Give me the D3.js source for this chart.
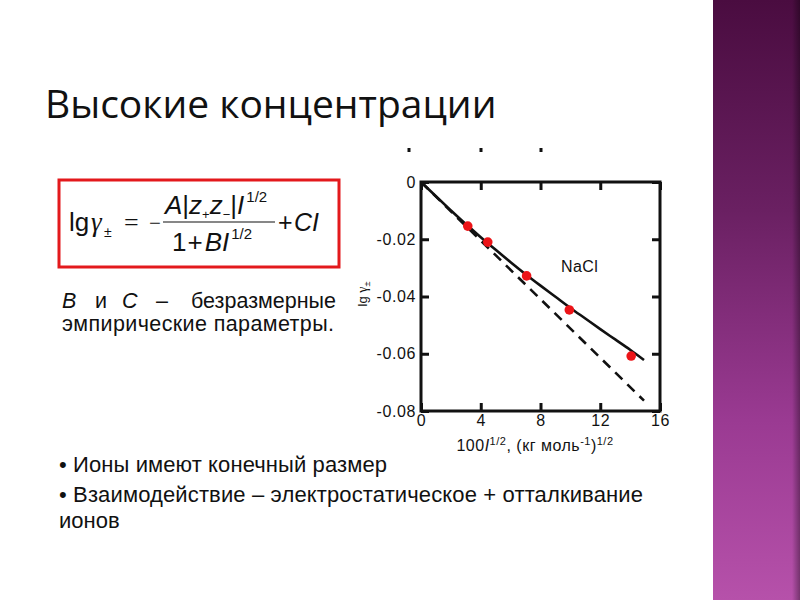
<!DOCTYPE html>
<html><head><meta charset="utf-8">
<script src="https://cdn.jsdelivr.net/npm/d3@7"></script>
<style>html,body{margin:0;padding:0;background:#fff;}svg{display:block;}</style>
</head><body>
<script>
// ---- data ----
const xTicks = [0, 4, 8, 12, 16];
const yTicks = [0, -0.02, -0.04, -0.06, -0.08];
const yTickLabels = ["0", "-0.02", "-0.04", "-0.06", "-0.08"];
const pointsX = [3.13, 4.47, 7.07, 9.93, 14.07];
const pointsY = [-0.0154, -0.0210, -0.0328, -0.0447, -0.0608];
const curveX = [0, 1, 2, 3, 4, 5, 6, 7, 8, 9, 10, 11, 12, 13, 14, 14.93];
const curveY = [0, -0.0050, -0.0099, -0.0147, -0.0193, -0.0237, -0.0280, -0.0322, -0.0362, -0.0401, -0.0440, -0.0477, -0.0514, -0.0550, -0.0586, -0.0622];
const limitX = [0, 14.93];
const limitY = [0, -0.0764];

const W = 800, H = 600;
const svg = d3.select("body").append("svg").attr("width", W).attr("height", H);
const fF = "Liberation Sans";

// sidebar
const defs = svg.append("defs");
const g1 = defs.append("linearGradient").attr("id", "side").attr("x1", 0).attr("y1", 0).attr("x2", 0).attr("y2", 1);
[["0%", "#4a0c40"], ["35%", "#6a2062"], ["70%", "#9a3a92"], ["100%", "#b651aa"]].forEach(s => g1.append("stop").attr("offset", s[0]).attr("stop-color", s[1]));
const g2 = defs.append("linearGradient").attr("id", "edge").attr("x1", 0).attr("y1", 0).attr("x2", 1).attr("y2", 0);
g2.append("stop").attr("offset", "0%").attr("stop-color", "#000").attr("stop-opacity", 0);
g2.append("stop").attr("offset", "100%").attr("stop-color", "#000").attr("stop-opacity", 0.35);
svg.append("rect").attr("x", 713).attr("y", 0).attr("width", 87).attr("height", H).attr("fill", "url(#side)");
svg.append("rect").attr("x", 792).attr("y", 0).attr("width", 8).attr("height", H).attr("fill", "url(#edge)");

// title
svg.append("text").attr("x", 45).attr("y", 118).attr("font-family", "Open Sans").attr("font-size", 39)
  .attr("fill", "#111").text("Высокие концентрации");

// formula box
svg.append("rect").attr("x", 59).attr("y", 180).attr("width", 280).attr("height", 87)
  .attr("fill", "none").attr("stroke", "#e3191c").attr("stroke-width", 3);
const fm = svg.append("g").attr("font-family", fF).attr("fill", "#111");
function t(x, y, s, size, opts) {
  const e = fm.append("text").attr("x", x).attr("y", y).attr("font-size", size).text(s);
  if (opts && opts.it) e.attr("font-style", "italic");
  if (opts && opts.serif) e.attr("font-family", "Liberation Serif");
  return e;
}
const base = 231;
t(69, base, "lg", 26);
t(91, base, "γ", 27, {serif: 1, it: 1});
t(104, base + 6, "±", 14);
t(124, base, "=", 26, {serif: 1});
t(149, base - 1, "−", 21, {serif: 1});
fm.append("line").attr("x1", 163).attr("x2", 275).attr("y1", 222).attr("y2", 222).attr("stroke", "#111").attr("stroke-width", 1.2);
// numerator
const num = fm.append("text").attr("x", 165).attr("y", 214).attr("font-size", 26);
num.append("tspan").attr("font-style", "italic").text("A");
num.append("tspan").text("|");
num.append("tspan").attr("font-style", "italic").text("z");
num.append("tspan").attr("font-size", 13).attr("dy", 5).text("+");
num.append("tspan").attr("font-style", "italic").attr("dy", -5).text("z");
num.append("tspan").attr("font-size", 13).attr("dy", 5).text("−");
num.append("tspan").attr("dy", -5).text("|");
num.append("tspan").attr("font-style", "italic").text("I");
num.append("tspan").attr("font-size", 15).attr("dy", -12).attr("dx", 2).text("1/2");
// denominator
const den = fm.append("text").attr("x", 172).attr("y", 251).attr("font-size", 26);
den.append("tspan").text("1");
den.append("tspan").attr("dx", 1).text("+");
den.append("tspan").attr("dx", 2).attr("font-style", "italic").text("BI");
den.append("tspan").attr("font-size", 15).attr("dy", -12).attr("dx", 2).text("1/2");
t(278, base, "+", 25);
t(294, base, "C", 25, {it: 1});
t(312, base, "I", 25, {it: 1});

// paragraph (justified first line)
const para = svg.append("g").attr("font-family", fF).attr("font-size", 21.5).attr("fill", "#111");
const l1 = para.append("text").attr("y", 308);
l1.append("tspan").attr("x", 62).attr("font-style", "italic").text("B");
l1.append("tspan").attr("x", 95).text("и");
l1.append("tspan").attr("x", 122).attr("font-style", "italic").text("C");
l1.append("tspan").attr("x", 156).text("–");
para.append("text").attr("x", 191).attr("y", 308).attr("textLength", 145).attr("lengthAdjust", "spacing").text("безразмерные");
para.append("text").attr("x", 62).attr("y", 331).attr("textLength", 272).attr("lengthAdjust", "spacing").text("эмпирические параметры.");

// bullets
const bl = svg.append("g").attr("font-family", fF).attr("font-size", 22).attr("fill", "#111");
bl.append("text").attr("x", 59).attr("y", 472).attr("textLength", 328).attr("lengthAdjust", "spacing").text("• Ионы имеют конечный размер");
bl.append("text").attr("x", 59).attr("y", 502).attr("textLength", 584).attr("lengthAdjust", "spacing").text("• Взаимодействие – электростатическое + отталкивание");
bl.append("text").attr("x", 59).attr("y", 528).text("ионов");

// chart
const x = d3.scaleLinear().domain([0, 16]).range([421, 660]);
const y = d3.scaleLinear().domain([0, -0.08]).range([182, 411]);
const ch = svg.append("g");

// stray marks above chart
[409, 481, 541].forEach(px => ch.append("rect").attr("x", px - 1.5).attr("y", 148).attr("width", 3).attr("height", 4).attr("fill", "#111"));

const tl = 8;
const axB = d3.axisBottom(x).tickValues(xTicks).tickSize(-tl).tickPadding(4).tickFormat(d3.format("d"));
const axT = d3.axisTop(x).tickValues(xTicks).tickSize(-tl).tickFormat("");
const axL = d3.axisLeft(y).tickValues(yTicks).tickSize(-tl).tickPadding(5).tickFormat((d, i) => yTickLabels[i]);
const axR = d3.axisRight(y).tickValues(yTicks).tickSize(-tl).tickFormat("");
function style(g) {
  g.select(".domain").remove();
  g.selectAll("line").attr("stroke", "#111").attr("stroke-width", 3);
  g.selectAll("text").attr("font-family", fF).attr("font-size", 16).attr("letter-spacing", 0.6).attr("fill", "#111");
}
ch.append("g").attr("transform", "translate(0,411)").call(axB).call(style);
ch.append("g").attr("transform", "translate(0,182)").call(axT).call(style);
ch.append("g").attr("transform", "translate(421,0)").call(axL).call(style);
ch.append("g").attr("transform", "translate(660,0)").call(axR).call(style);
ch.append("rect").attr("x", 421).attr("y", 182).attr("width", 239).attr("height", 229)
  .attr("fill", "none").attr("stroke", "#111").attr("stroke-width", 3);

const line = d3.line().x(d => x(d[0])).y(d => y(d[1]));
ch.append("path").datum(limitX.map((v, i) => [v, limitY[i]])).attr("d", line)
  .attr("fill", "none").attr("stroke", "#111").attr("stroke-width", 2.6).attr("stroke-dasharray", "10,7");
ch.append("path").datum(curveX.map((v, i) => [v, curveY[i]])).attr("d", d3.line().curve(d3.curveMonotoneX).x(d => x(d[0])).y(d => y(d[1])))
  .attr("fill", "none").attr("stroke", "#111").attr("stroke-width", 2.6);
ch.selectAll("circle.pt").data(pointsX.map((v, i) => [v, pointsY[i]])).enter().append("circle")
  .attr("cx", d => x(d[0])).attr("cy", d => y(d[1])).attr("r", 4.8).attr("fill", "#ec1418");

ch.append("text").attr("x", 561).attr("y", 272).attr("font-family", fF).attr("font-size", 16).attr("letter-spacing", 0.4).attr("fill", "#111").text("NaCl");

// x title
const xt = ch.append("text").attr("x", 535).attr("y", 451).attr("text-anchor", "middle").attr("font-family", fF).attr("font-size", 16).attr("letter-spacing", 0.5).attr("fill", "#111");
xt.append("tspan").text("100");
xt.append("tspan").attr("font-style", "italic").text("I");
xt.append("tspan").attr("font-size", 11).attr("dy", -6).text("1/2");
xt.append("tspan").attr("dy", 6).text(", (кг моль");
xt.append("tspan").attr("font-size", 11).attr("dy", -6).text("-1");
xt.append("tspan").attr("dy", 6).text(")");
xt.append("tspan").attr("font-size", 11).attr("dy", -6).text("1/2");

// y title
const yt = ch.append("text").attr("transform", "translate(367,294) rotate(-90)").attr("text-anchor", "middle").attr("font-family", fF).attr("font-size", 13).attr("fill", "#111");
yt.append("tspan").text("lg ");
yt.append("tspan").attr("font-family", "Liberation Serif").attr("font-size", 14).text("γ");
yt.append("tspan").attr("font-size", 9).attr("dy", 3).text("±");
</script>
</body></html>
